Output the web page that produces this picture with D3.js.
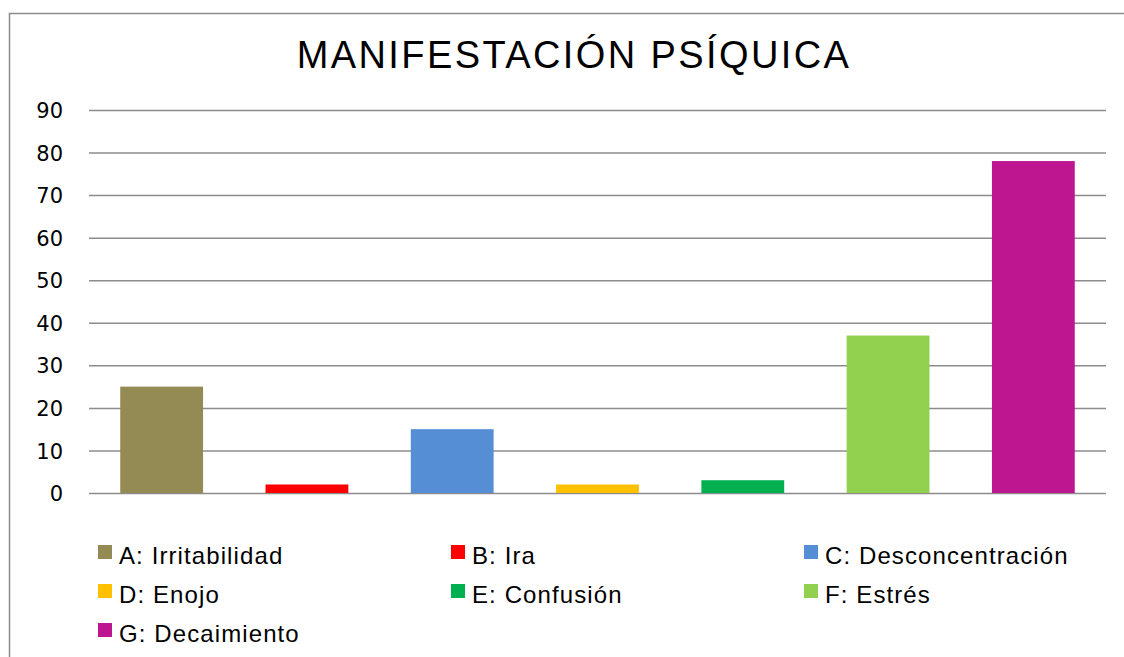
<!DOCTYPE html>
<html>
<head>
<meta charset="utf-8">
<script src="https://cdn.jsdelivr.net/npm/d3@7"></script>
<style>
  body { margin: 0; background: #fff; }
  svg { display: block; }
</style>
</head>
<body>
<svg id="chart"></svg>
<script>
// data
const categories = ["A", "B", "C", "D", "E", "F", "G"];
const labels = ["A: Irritabilidad", "B: Ira", "C: Desconcentración", "D: Enojo", "E: Confusión", "F: Estrés", "G: Decaimiento"];
const values = [25, 2, 15, 2, 3, 37, 78];
const colors = ["#948a54", "#ff0000", "#558ed5", "#ffc000", "#00b050", "#92d050", "#be1591"];
const yTicks = [0, 10, 20, 30, 40, 50, 60, 70, 80, 90];

const width = 1124, height = 657;
const margin = {top: 110, right: 18, bottom: 164, left: 89};

const svg = d3.select("#chart")
    .attr("width", width)
    .attr("height", height);

// outer frame (top and left edges only are visible)
svg.append("path")
    .attr("d", `M9.5,${height} V13.5 H${width}`)
    .attr("fill", "none")
    .attr("stroke", "#8c8c8c")
    .attr("stroke-width", 1.5);

svg.append("text")
    .attr("x", 574)
    .attr("y", 68)
    .attr("text-anchor", "middle")
    .style("font-family", "'Liberation Sans', Arial, sans-serif")
    .style("font-size", "38px")
    .style("letter-spacing", "2.4px")
    .text("MANIFESTACIÓN PSÍQUICA");

const x = d3.scaleBand()
    .domain(categories)
    .range([margin.left, width - margin.right])
    .paddingInner(0.43)
    .paddingOuter(0.215);

const y = d3.scaleLinear()
    .domain([0, 90])
    .range([height - margin.bottom, margin.top]);

// gridlines
const yAxis = d3.axisLeft(y)
    .tickValues(yTicks)
    .tickSize(-(width - margin.right - margin.left))
    .tickPadding(26)
    .tickFormat(d3.format("d"));

const gAxis = svg.append("g")
    .attr("transform", `translate(${margin.left},0)`)
    .call(yAxis);
gAxis.select(".domain").remove();
gAxis.selectAll(".tick line")
    .attr("stroke", "#8c8c8c")
    .attr("stroke-width", 1.5);
gAxis.selectAll(".tick text")
    .attr("fill", "#000")
    .attr("dy", "0.36em")
    .style("font-family", "'DejaVu Sans', Verdana, sans-serif")
    .style("font-size", "21px");

// bars
svg.append("g")
    .selectAll("rect")
    .data(categories)
    .enter()
    .append("rect")
        .attr("x", d => x(d))
        .attr("y", (d, i) => y(values[i]))
        .attr("width", x.bandwidth())
        .attr("height", (d, i) => y(0) - y(values[i]))
        .attr("fill", (d, i) => colors[i]);

// legend, three columns
const legend = svg.append("g")
    .selectAll("g")
    .data(labels)
    .enter()
    .append("g")
        .attr("transform", (d, i) => `translate(${98 + (i % 3) * 353}, ${545 + Math.floor(i / 3) * 39})`);

legend.append("rect")
    .attr("width", 14)
    .attr("height", 14)
    .attr("fill", (d, i) => colors[i]);

legend.append("text")
    .attr("x", 21)
    .attr("y", 19)
    .style("font-family", "'Liberation Sans', Arial, sans-serif")
    .style("font-size", "24px")
    .style("letter-spacing", "1.1px")
    .text(d => d);
</script>
</body>
</html>
